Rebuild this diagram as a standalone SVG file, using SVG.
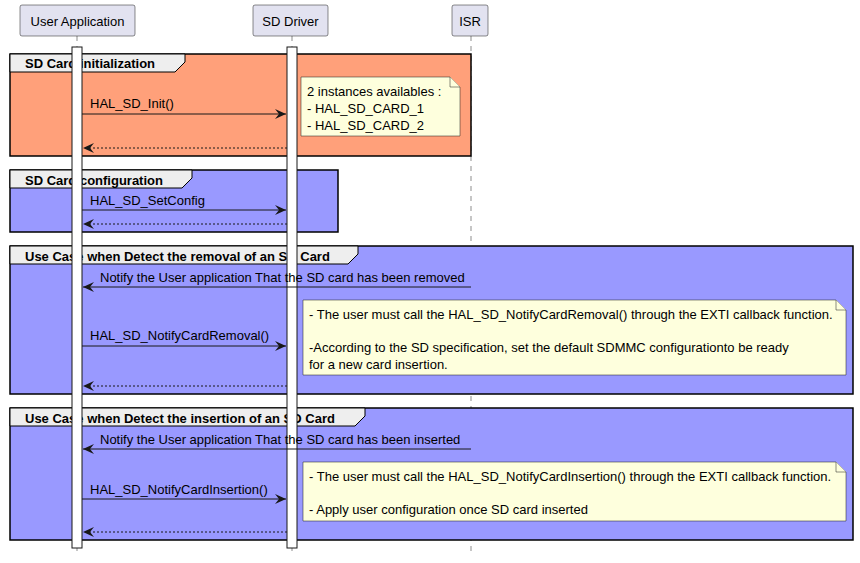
<svg xmlns="http://www.w3.org/2000/svg" width="860" height="563" viewBox="0 0 860 563">
<style>
text{font-family:"Liberation Sans",Arial,sans-serif;font-size:13px;fill:#000}
.p{fill:#E2E2F0;stroke:#181818;stroke-width:0.5}
.life{stroke:#181818;stroke-width:0.5;stroke-dasharray:5,5}
.act{fill:#fff;stroke:#181818;stroke-width:1}
.fr{stroke:#000;stroke-width:1.5}
.tab{fill:#EEEEEE;stroke:#000;stroke-width:1}
.ft{font-weight:bold}
.note{fill:#FEFFDD;stroke:#181818;stroke-width:0.5}
.m{stroke:#181818;stroke-width:1;fill:none}
.d{stroke-dasharray:2,2}
</style>
<defs><marker id="a" markerWidth="12" markerHeight="10" refX="11" refY="5" orient="auto" markerUnits="userSpaceOnUse"><path d="M0,0 L11,5 L0,10 L4,5 Z" fill="#181818"/></marker></defs>
<g id="lifelines">
<line class="life" x1="77" y1="36" x2="77" y2="556"/>
<line class="life" x1="292" y1="36" x2="292" y2="556"/>
<line class="life" x1="471" y1="36" x2="471" y2="556"/>
</g>
<g id="participants">
<g id="p-user"><rect class="p" x="20" y="5" width="115" height="31" rx="2"/><text x="77.5" y="26" text-anchor="middle" font-size="14">User Application</text></g>
<g id="p-driver"><rect class="p" x="253" y="5" width="75" height="31" rx="2"/><text x="290.5" y="26" text-anchor="middle" font-size="14">SD Driver</text></g>
<g id="p-isr"><rect class="p" x="452" y="5" width="36" height="31" rx="2"/><text x="470" y="26" text-anchor="middle" font-size="14">ISR</text></g>
</g>
<g id="frames">
<g id="f1"><rect class="fr" x="10" y="54" width="461" height="102" fill="#FFA07A"/><path class="tab" d="M10,54 H185 V62 L175,72 H10 Z"/><text class="ft" x="25" y="68">SD Card initialization</text></g>
<g id="f2"><rect class="fr" x="10" y="170" width="328" height="62" fill="#9999FF"/><path class="tab" d="M10,170 H192 V178 L182,188 H10 Z"/><text class="ft" x="25" y="185">SD Card configuration</text></g>
<g id="f3"><rect class="fr" x="10" y="246" width="843" height="148" fill="#9999FF"/><path class="tab" d="M10,246 H358 V254 L348,264 H10 Z"/><text class="ft" x="25" y="261">Use Case when Detect the removal of an SD Card</text></g>
<g id="f4"><rect class="fr" x="10" y="408" width="843" height="132" fill="#9999FF"/><path class="tab" d="M10,408 H365 V416 L355,426 H10 Z"/><text class="ft" x="25" y="423">Use Case when Detect the insertion of an SD Card</text></g>
</g>
<g id="activations">
<rect class="act" x="72" y="47" width="10" height="501"/>
<rect class="act" x="287" y="47" width="10" height="501"/>
</g>
<g id="notes">
<g id="n1"><path class="note" d="M301,77 H450 L460,87 V136 H301 Z"/><path class="note" d="M450,77 V87 H460"/><text x="307" y="96">2 instances availables :</text><text x="307" y="113">- HAL_SD_CARD_1</text><text x="307" y="130">- HAL_SD_CARD_2</text></g>
<g id="n2"><path class="note" d="M303,300 H836 L846,310 V375 H303 Z"/><path class="note" d="M836,300 V310 H846"/><text x="309" y="319">- The user must call the HAL_SD_NotifyCardRemoval() through the EXTI callback function.</text><text x="309" y="352">-According to the SD specification, set the default SDMMC configurationto be ready</text><text x="309" y="369">for a new card insertion.</text></g>
<g id="n3"><path class="note" d="M303,462 H836 L846,472 V521 H303 Z"/><path class="note" d="M836,462 V472 H846"/><text x="309" y="481">- The user must call the HAL_SD_NotifyCardInsertion() through the EXTI callback function.</text><text x="309" y="514">- Apply user configuration once SD card inserted</text></g>
</g>
<g id="connectors">
<line class="m" x1="82" y1="114" x2="286" y2="114" marker-end="url(#a)"/><text x="90" y="108">HAL_SD_Init()</text>
<line class="m d" x1="287" y1="148" x2="83" y2="148" marker-end="url(#a)"/>
<line class="m" x1="82" y1="210" x2="286" y2="210" marker-end="url(#a)"/><text x="90" y="205">HAL_SD_SetConfig</text>
<line class="m d" x1="287" y1="224" x2="83" y2="224" marker-end="url(#a)"/>
<line class="m" x1="471" y1="287" x2="83" y2="287" marker-end="url(#a)"/><text x="100" y="282">Notify the User application That the SD card has been removed</text>
<line class="m" x1="82" y1="346" x2="286" y2="346" marker-end="url(#a)"/><text x="90" y="340">HAL_SD_NotifyCardRemoval()</text>
<line class="m d" x1="287" y1="386" x2="83" y2="386" marker-end="url(#a)"/>
<line class="m" x1="471" y1="449" x2="83" y2="449" marker-end="url(#a)"/><text x="100" y="444">Notify the User application That the SD card has been inserted</text>
<line class="m" x1="82" y1="499" x2="286" y2="499" marker-end="url(#a)"/><text x="90" y="494">HAL_SD_NotifyCardInsertion()</text>
<line class="m d" x1="287" y1="532" x2="83" y2="532" marker-end="url(#a)"/>
</g>
</svg>
